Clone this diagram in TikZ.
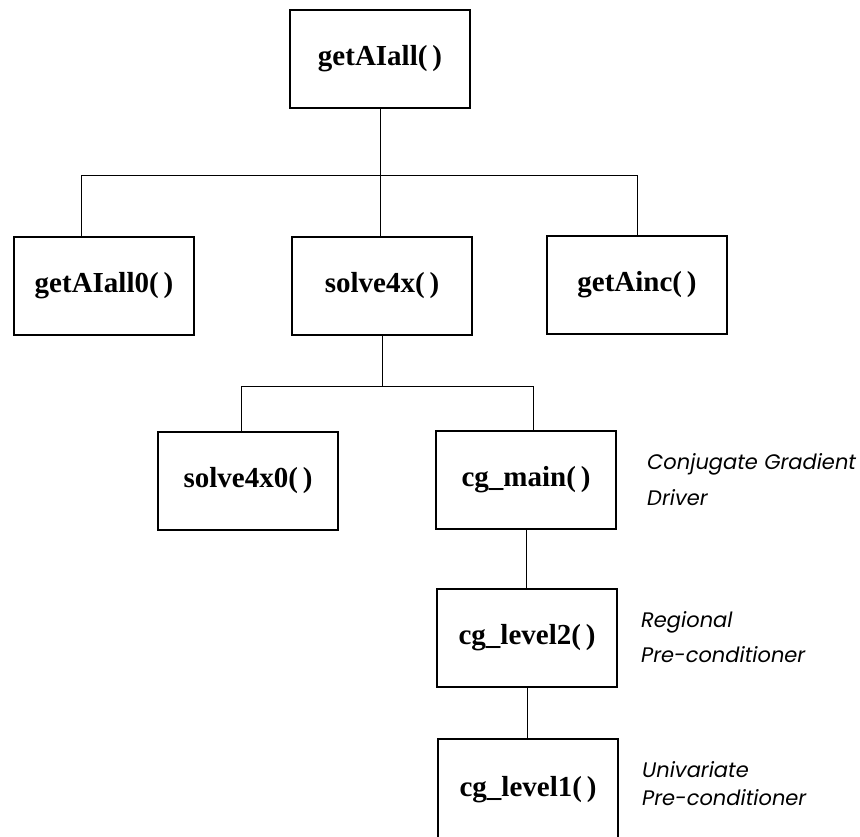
\documentclass[tikz,border=0pt]{standalone}
\usepackage{fontspec}
\setmainfont{Liberation Serif}
\newfontfamily\notefont{Poppins}
\begin{document}
\begin{tikzpicture}[x=1pt,y=-1pt,
  fnbox/.style={draw, line width=1.4pt, minimum width=180pt, minimum height=98pt,
    inner sep=0pt, font=\fontsize{29}{31}\selectfont\bfseries},
  link/.style={line width=1pt},
  note/.style={anchor=base west, inner sep=0pt, font=\notefont\itshape\fontsize{21}{23}\selectfont}]
\useasboundingbox (0,0) rectangle (860,836);

% call tree boxes
\node[fnbox] (all)    at (380,59)  {getAIall(\,)};
\node[fnbox] (all0)   at (104,286) {getAIall0(\,)};
\node[fnbox] (solve)  at (382,286) {solve4x(\,)};
\node[fnbox] (inc)    at (637,285) {getAinc(\,)};
\node[fnbox] (solve0) at (248,481) {solve4x0(\,)};
\node[fnbox] (cgmain) at (526,480) {cg\_main(\,)};
\node[fnbox] (cglev2) at (527,638) {cg\_level2(\,)};
\node[fnbox, minimum height=102pt] (cglev1) at (528,790) {\raisebox{4pt}{cg\_level1(\,)}};

% bus lines
\coordinate (busA) at (0,175);
\coordinate (busB) at (0,386);

% first level
\draw[link] (all.south) -- (all.south |- solve.north);
\draw[link] ([xshift=-23pt]all0.north) -- ([xshift=-23pt]all0.north |- busA)
  -- (inc.north |- busA) -- (inc.north);

% second level
\draw[link] ([xshift=-7pt]solve0.north) -- ([xshift=-7pt]solve0.north |- busB)
  -- ([xshift=7pt]cgmain.north |- busB) -- ([xshift=7pt]cgmain.north);
\draw[link] (solve.south) -- (solve.south |- busB);

% chain of preconditioners
\draw[link] (cgmain.south) -- (cgmain.south |- cglev2.north);
\draw[link] (cglev2.south) -- (cglev2.south |- cglev1.north);

% side notes
\node[note] (n1a) at (647,469) {Conjugate Gradient};
\node[note] (n1b) at (647,505) {Driver};
\node[note] (n2a) at (641,627) {Regional};
\node[note] (n2b) at (641,662) {Pre-conditioner};
\node[note] (n3a) at (642,777) {Univariate};
\node[note] (n3b) at (642,805) {Pre-conditioner};
\end{tikzpicture}
\end{document}
